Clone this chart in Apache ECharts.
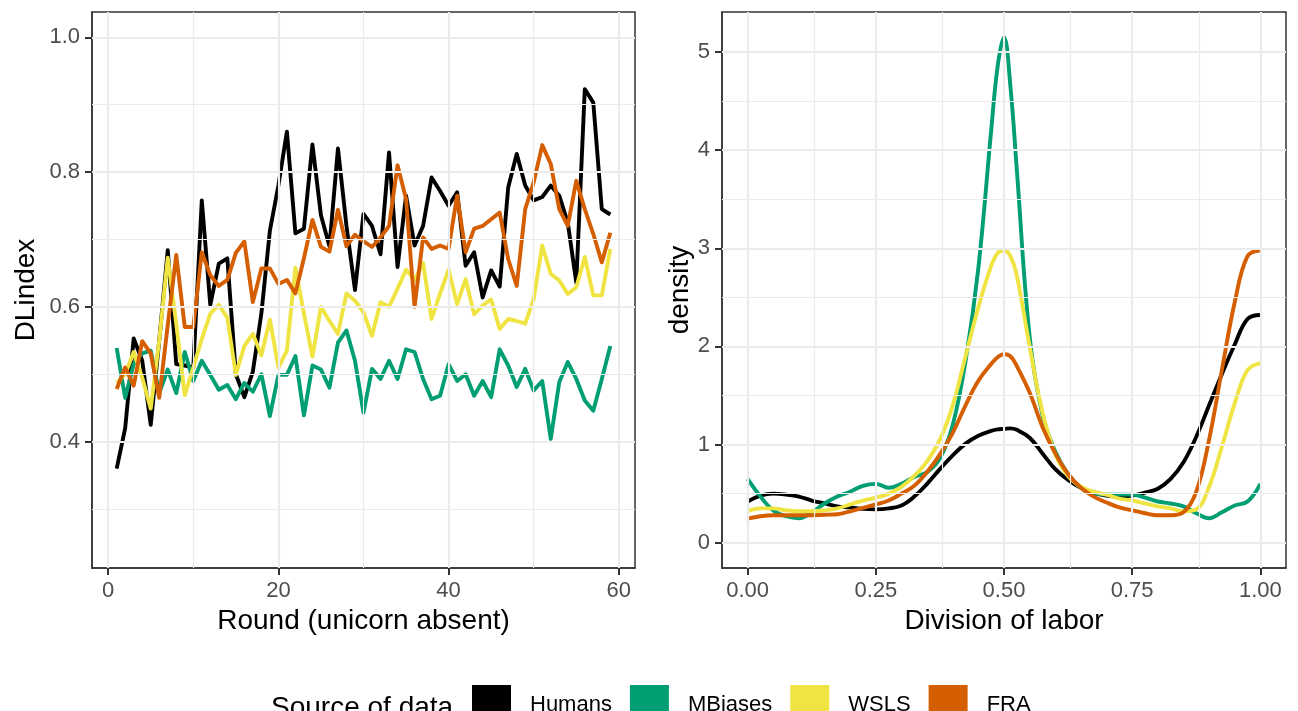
<!DOCTYPE html>
<html>
<head>
<meta charset="utf-8">
<title>DLindex / Division of labor</title>
<script src="https://cdn.jsdelivr.net/npm/echarts@6/dist/echarts.min.js"></script>
<style>
html, body { margin: 0; padding: 0; background: #fff; }
#myChart { width: 1298px; height: 711px; }
</style>
</head>
<body>
<div id="myChart"></div>
<script>
// ---- 左图: DLindex 每轮 ----
var rounds = [1, 2, 3, 4, 5, 6, 7, 8, 9, 10, 11, 12, 13, 14, 15, 16, 17, 18, 19, 20,
  21, 22, 23, 24, 25, 26, 27, 28, 29, 30, 31, 32, 33, 34, 35, 36, 37, 38, 39, 40,
  41, 42, 43, 44, 45, 46, 47, 48, 49, 50, 51, 52, 53, 54, 55, 56, 57, 58, 59];
var humans = [0.36, 0.42, 0.553, 0.52, 0.425, 0.55, 0.684, 0.515, 0.513, 0.51,
  0.758, 0.603, 0.664, 0.672, 0.5, 0.466, 0.504, 0.59, 0.713, 0.78,
  0.86, 0.709, 0.716, 0.841, 0.736, 0.69, 0.835, 0.72, 0.625, 0.738,
  0.72, 0.678, 0.829, 0.659, 0.765, 0.691, 0.72, 0.792, 0.772, 0.75,
  0.77, 0.661, 0.681, 0.614, 0.654, 0.63, 0.777, 0.827, 0.78, 0.758,
  0.763, 0.78, 0.765, 0.725, 0.636, 0.923, 0.903, 0.745, 0.737];
var mbiases = [0.539, 0.465, 0.515, 0.531, 0.535, 0.472, 0.507, 0.472, 0.533, 0.49,
  0.52, 0.499, 0.477, 0.484, 0.463, 0.487, 0.474, 0.5, 0.438, 0.499,
  0.499, 0.527, 0.439, 0.513, 0.507, 0.48, 0.547, 0.565, 0.52, 0.443,
  0.508, 0.493, 0.52, 0.493, 0.537, 0.533, 0.493, 0.463, 0.468, 0.515,
  0.49, 0.5, 0.468, 0.49, 0.466, 0.537, 0.513, 0.481, 0.508, 0.476,
  0.49, 0.404, 0.488, 0.518, 0.493, 0.461, 0.446, 0.493, 0.542];
var wsls = [0.487, 0.5, 0.533, 0.495, 0.449, 0.55, 0.673, 0.575, 0.469, 0.51,
  0.552, 0.59, 0.603, 0.584, 0.499, 0.542, 0.56, 0.528, 0.581, 0.51,
  0.535, 0.658, 0.59, 0.526, 0.6, 0.579, 0.56, 0.62, 0.609, 0.592,
  0.557, 0.607, 0.6, 0.627, 0.655, 0.64, 0.665, 0.582, 0.62, 0.655,
  0.604, 0.641, 0.589, 0.602, 0.611, 0.567, 0.582, 0.579, 0.575, 0.612,
  0.691, 0.649, 0.639, 0.619, 0.629, 0.674, 0.617, 0.617, 0.686];
var fra = [0.478, 0.51, 0.483, 0.549, 0.531, 0.465, 0.573, 0.677, 0.57, 0.57,
  0.681, 0.647, 0.631, 0.64, 0.68, 0.697, 0.607, 0.657, 0.657, 0.634,
  0.64, 0.62, 0.672, 0.729, 0.689, 0.682, 0.744, 0.69, 0.707, 0.697,
  0.689, 0.703, 0.72, 0.81, 0.76, 0.6, 0.703, 0.686, 0.691, 0.686,
  0.765, 0.681, 0.716, 0.72, 0.73, 0.74, 0.671, 0.631, 0.745, 0.785,
  0.84, 0.812, 0.745, 0.72, 0.787, 0.745, 0.708, 0.666, 0.71];

// ---- 右图: 密度曲线 ----
var densX = [0, 0.025, 0.05, 0.075, 0.1, 0.125, 0.15, 0.175, 0.2, 0.225,
  0.25, 0.275, 0.3, 0.325, 0.35, 0.375, 0.4, 0.425, 0.45, 0.475,
  0.4875, 0.5, 0.5125,
  0.525, 0.55, 0.575, 0.6, 0.625, 0.65, 0.675, 0.7, 0.725, 0.75,
  0.775, 0.8, 0.825, 0.85, 0.875, 0.9, 0.925, 0.95, 0.975, 1];
var densHumans = [0.42, 0.48, 0.5, 0.49, 0.47, 0.43, 0.4, 0.37, 0.36, 0.345,
  0.34, 0.35, 0.38, 0.47, 0.6, 0.75, 0.89, 1.01, 1.09, 1.14,
  1.155, 1.16, 1.165,
  1.15, 1.07, 0.91, 0.75, 0.64, 0.56, 0.51, 0.48, 0.47, 0.48,
  0.51, 0.55, 0.65, 0.82, 1.08, 1.4, 1.72, 2.02, 2.28, 2.32];
var densMBiases = [0.65, 0.47, 0.33, 0.27, 0.25, 0.31, 0.4, 0.47, 0.52, 0.58,
  0.6, 0.56, 0.6, 0.67, 0.72, 0.86, 1.2, 1.85, 2.8, 4.2,
  4.85, 5.15, 4.65,
  3.8, 2.1, 1.3, 0.93, 0.7, 0.56, 0.5, 0.49, 0.49, 0.49,
  0.46, 0.42, 0.4, 0.37, 0.3, 0.25, 0.31, 0.38, 0.42, 0.6];
var densWSLS = [0.32, 0.35, 0.35, 0.33, 0.32, 0.32, 0.33, 0.35, 0.39, 0.43,
  0.46, 0.5, 0.57, 0.68, 0.83, 1.05, 1.4, 1.9, 2.4, 2.82,
  2.95, 2.98, 2.92,
  2.72, 2.0, 1.33, 0.9, 0.68, 0.57, 0.52, 0.49, 0.45, 0.43,
  0.4, 0.37, 0.35, 0.32, 0.34, 0.57, 0.98, 1.42, 1.76, 1.83];
var densFRA = [0.245, 0.27, 0.28, 0.28, 0.28, 0.28, 0.285, 0.29, 0.32, 0.355,
  0.39, 0.43, 0.5, 0.58, 0.72, 0.9, 1.12, 1.4, 1.65, 1.82,
  1.89, 1.92, 1.9,
  1.8, 1.53, 1.18, 0.91, 0.7, 0.56, 0.47, 0.41, 0.36, 0.33,
  0.3, 0.28, 0.28, 0.31, 0.52, 1.05, 1.76, 2.45, 2.92, 2.98];

// 刻度 / 网格
var leftXTicks = [0, 20, 40, 60];
var leftXMinor = [10, 30, 50];
var leftYTicks = [0.4, 0.6, 0.8, 1.0];
var leftYMinor = [0.3, 0.5, 0.7, 0.9];
var rightXTicks = [0, 0.25, 0.5, 0.75, 1];
var rightXMinor = [0.125, 0.375, 0.625, 0.875];
var rightYTicks = [0, 1, 2, 3, 4, 5];
var rightYMinor = [0.5, 1.5, 2.5, 3.5, 4.5];

var names = ["Humans", "MBiases", "WSLS", "FRA"];
var colors = ["#000000", "#009E73", "#F0E442", "#D55E00"];

var FONT = "'Liberation Sans', Arial, Helvetica, sans-serif";

function zip(xs, ys) {
  return xs.map(function (x, i) { return [x, ys[i]]; });
}

// 网格线用 markLine 画 (ggplot 的 major / minor)
function gridLines(idx, xMajor, xMinor, yMajor, yMinor) {
  var major = [], minor = [];
  xMajor.forEach(function (v) { major.push({ xAxis: v }); });
  yMajor.forEach(function (v) { major.push({ yAxis: v }); });
  xMinor.forEach(function (v) { minor.push({ xAxis: v }); });
  yMinor.forEach(function (v) { minor.push({ yAxis: v }); });
  var base = {
    type: "line",
    xAxisIndex: idx,
    yAxisIndex: idx,
    data: [],
    z: 1,
    silent: true
  };
  return [
    Object.assign({}, base, {
      name: "minor" + idx,
      markLine: {
        silent: true, symbol: ["none", "none"], label: { show: false },
        animation: false,
        lineStyle: { color: "#EBEBEB", width: 1.2, type: "solid" },
        data: minor
      }
    }),
    Object.assign({}, base, {
      name: "major" + idx,
      markLine: {
        silent: true, symbol: ["none", "none"], label: { show: false },
        animation: false,
        lineStyle: { color: "#EBEBEB", width: 2.2, type: "solid" },
        data: major
      }
    })
  ];
}

function valueAxis(idx, min, max, ticks, fmt, name, nameGap, isY) {
  var ax = {
    type: "value",
    gridIndex: idx,
    min: min,
    max: max,
    name: name,
    nameLocation: "middle",
    nameGap: nameGap,
    nameTextStyle: { color: "#000", fontSize: 28, fontFamily: FONT },
    axisLine: { show: true, onZero: false, lineStyle: { color: "#333333", width: 1.5 } },
    axisTick: {
      show: true, length: 7, inside: false, customValues: ticks,
      lineStyle: { color: "#333333", width: 2 }
    },
    axisLabel: {
      show: true, customValues: ticks, margin: 12,
      color: "#4D4D4D", fontSize: 22, fontFamily: FONT,
      formatter: fmt
    },
    splitLine: { show: false },
    minorSplitLine: { show: false }
  };
  if (isY) ax.nameRotate = 90;
  return ax;
}

var chart = echarts.init(document.getElementById("myChart"), null, { renderer: "canvas" });

var series = [];
series = series.concat(gridLines(0, leftXTicks, leftXMinor, leftYTicks, leftYMinor));
series = series.concat(gridLines(1, rightXTicks, rightXMinor, rightYTicks, rightYMinor));

var leftData = [humans, mbiases, wsls, fra];
var rightData = [densHumans, densMBiases, densWSLS, densFRA];

names.forEach(function (n, i) {
  series.push({
    name: n,
    type: "line",
    xAxisIndex: 0,
    yAxisIndex: 0,
    data: zip(rounds, leftData[i]),
    symbol: "none",
    z: 3,
    color: colors[i],
    lineStyle: { width: 3.9, color: colors[i], join: "round" },
    itemStyle: { color: colors[i] }
  });
});
names.forEach(function (n, i) {
  series.push({
    name: n,
    type: "line",
    xAxisIndex: 1,
    yAxisIndex: 1,
    data: zip(densX, rightData[i]),
    symbol: "none",
    smooth: 0.4,
    z: 3,
    color: colors[i],
    lineStyle: { width: 3.9, color: colors[i] },
    itemStyle: { color: colors[i] }
  });
});

var option = {
  animation: false,
  backgroundColor: "#ffffff",
  grid: [
    { left: 92, top: 12, width: 543, height: 556, show: true, borderColor: "#333333", borderWidth: 1.5, backgroundColor: "transparent" },
    { left: 722, top: 12, width: 564, height: 556, show: true, borderColor: "#333333", borderWidth: 1.5, backgroundColor: "transparent" }
  ],
  xAxis: [
    valueAxis(0, -1.9, 61.9, leftXTicks, function (v) { return String(v); }, "Round (unicorn absent)", 34, false),
    valueAxis(1, -0.05, 1.05, rightXTicks, function (v) { return v.toFixed(2); }, "Division of labor", 34, false)
  ],
  yAxis: [
    valueAxis(0, 0.2125, 1.0375, leftYTicks, function (v) { return v.toFixed(1); }, "DLindex", 52, true),
    valueAxis(1, -0.2575, 5.4075, rightYTicks, function (v) { return String(v); }, "density", 22, true)
  ],
  legend: {
    data: names,
    left: 472,
    top: 685,
    padding: 0,
    icon: "rect",
    itemWidth: 39,
    itemHeight: 39,
    itemGap: 18,
    selectedMode: false,
    textStyle: { color: "#000", fontSize: 22, fontFamily: FONT, padding: [22, 0, 0, 14] }
  },
  graphic: [
    {
      type: "text",
      left: 271,
      top: 694,
      style: { text: "Source of data", fontSize: 28, fontFamily: FONT, fill: "#000" }
    }
  ],
  series: series
};

chart.setOption(option);
window.addEventListener("resize", function () { chart.resize(); }, true);
</script>
</body>
</html>
